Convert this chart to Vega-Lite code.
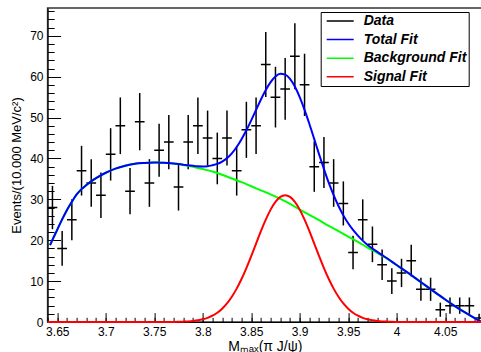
{
  "$schema": "https://vega.github.io/schema/vega-lite/v6.json",
  "width": 434.4,
  "height": 314,
  "autosize": {"type": "none"},
  "padding": {"left": 47.6, "top": 8, "right": 0, "bottom": 30},
  "background": "white",
  "config": {
    "font": "Liberation Sans",
    "view": {"stroke": "#333333", "strokeWidth": 1.5},
    "axis": {"grid": false, "domainColor": "black", "tickColor": "black", "labelColor": "black", "titleColor": "black", "labelFont": "Liberation Sans", "titleFont": "Liberation Sans", "labelFontSize": 12, "titleFontWeight": "normal", "labelFlush": false, "labelOverlap": false}
  },
  "datasets": {
    "hist": [
      {"x": 3.645, "x0": 3.64, "x1": 3.65, "n": 28, "lo": 22.71, "hi": 33.29},
      {"x": 3.655, "x0": 3.65, "x1": 3.66, "n": 18, "lo": 13.76, "hi": 22.24},
      {"x": 3.665, "x0": 3.66, "x1": 3.67, "n": 25, "lo": 20, "hi": 30},
      {"x": 3.675, "x0": 3.67, "x1": 3.68, "n": 37, "lo": 30.92, "hi": 43.08},
      {"x": 3.685, "x0": 3.68, "x1": 3.69, "n": 34, "lo": 28.17, "hi": 39.83},
      {"x": 3.695, "x0": 3.69, "x1": 3.70, "n": 31, "lo": 25.43, "hi": 36.57},
      {"x": 3.705, "x0": 3.70, "x1": 3.71, "n": 41, "lo": 34.6, "hi": 47.4},
      {"x": 3.715, "x0": 3.71, "x1": 3.72, "n": 48, "lo": 41.07, "hi": 54.93},
      {"x": 3.725, "x0": 3.72, "x1": 3.73, "n": 32, "lo": 26.34, "hi": 37.66},
      {"x": 3.735, "x0": 3.73, "x1": 3.74, "n": 49, "lo": 42, "hi": 56},
      {"x": 3.745, "x0": 3.74, "x1": 3.75, "n": 34, "lo": 28.17, "hi": 39.83},
      {"x": 3.755, "x0": 3.75, "x1": 3.76, "n": 42, "lo": 35.52, "hi": 48.48},
      {"x": 3.765, "x0": 3.76, "x1": 3.77, "n": 44, "lo": 37.37, "hi": 50.63},
      {"x": 3.775, "x0": 3.77, "x1": 3.78, "n": 33, "lo": 27.26, "hi": 38.74},
      {"x": 3.785, "x0": 3.78, "x1": 3.79, "n": 44, "lo": 37.37, "hi": 50.63},
      {"x": 3.795, "x0": 3.79, "x1": 3.80, "n": 48, "lo": 41.07, "hi": 54.93},
      {"x": 3.805, "x0": 3.80, "x1": 3.81, "n": 45, "lo": 38.29, "hi": 51.71},
      {"x": 3.815, "x0": 3.81, "x1": 3.82, "n": 40, "lo": 33.68, "hi": 46.32},
      {"x": 3.825, "x0": 3.82, "x1": 3.83, "n": 45, "lo": 38.29, "hi": 51.71},
      {"x": 3.835, "x0": 3.83, "x1": 3.84, "n": 37, "lo": 30.92, "hi": 43.08},
      {"x": 3.845, "x0": 3.84, "x1": 3.85, "n": 47, "lo": 40.14, "hi": 53.86},
      {"x": 3.855, "x0": 3.85, "x1": 3.86, "n": 48, "lo": 41.07, "hi": 54.93},
      {"x": 3.865, "x0": 3.86, "x1": 3.87, "n": 63, "lo": 55.06, "hi": 70.94},
      {"x": 3.875, "x0": 3.87, "x1": 3.88, "n": 55, "lo": 47.58, "hi": 62.42},
      {"x": 3.885, "x0": 3.88, "x1": 3.89, "n": 57, "lo": 49.45, "hi": 64.55},
      {"x": 3.895, "x0": 3.89, "x1": 3.90, "n": 65, "lo": 56.94, "hi": 73.06},
      {"x": 3.905, "x0": 3.90, "x1": 3.91, "n": 58, "lo": 50.38, "hi": 65.62},
      {"x": 3.915, "x0": 3.91, "x1": 3.92, "n": 38, "lo": 31.84, "hi": 44.16},
      {"x": 3.925, "x0": 3.92, "x1": 3.93, "n": 39, "lo": 32.76, "hi": 45.24},
      {"x": 3.935, "x0": 3.93, "x1": 3.94, "n": 34, "lo": 28.17, "hi": 39.83},
      {"x": 3.945, "x0": 3.94, "x1": 3.95, "n": 29, "lo": 23.61, "hi": 34.39},
      {"x": 3.955, "x0": 3.95, "x1": 3.96, "n": 17, "lo": 12.88, "hi": 21.12},
      {"x": 3.965, "x0": 3.96, "x1": 3.97, "n": 25, "lo": 20, "hi": 30},
      {"x": 3.975, "x0": 3.97, "x1": 3.98, "n": 19, "lo": 14.64, "hi": 23.36},
      {"x": 3.985, "x0": 3.98, "x1": 3.99, "n": 14, "lo": 10.26, "hi": 17.74},
      {"x": 3.995, "x0": 3.99, "x1": 4.00, "n": 10, "lo": 6.84, "hi": 13.16},
      {"x": 4.005, "x0": 4.00, "x1": 4.01, "n": 12, "lo": 8.54, "hi": 15.46},
      {"x": 4.015, "x0": 4.01, "x1": 4.02, "n": 15, "lo": 11.13, "hi": 18.87},
      {"x": 4.025, "x0": 4.02, "x1": 4.03, "n": 8, "lo": 5.17, "hi": 10.83},
      {"x": 4.035, "x0": 4.03, "x1": 4.04, "n": 8, "lo": 5.17, "hi": 10.83},
      {"x": 4.045, "x0": 4.04, "x1": 4.05, "n": 3, "lo": 1.27, "hi": 4.73},
      {"x": 4.055, "x0": 4.05, "x1": 4.06, "n": 4, "lo": 2, "hi": 6},
      {"x": 4.065, "x0": 4.06, "x1": 4.07, "n": 4, "lo": 2, "hi": 6},
      {"x": 4.075, "x0": 4.07, "x1": 4.08, "n": 4, "lo": 2, "hi": 6},
      {"x": 4.085, "x0": 4.08, "x1": 4.09, "n": 1, "lo": 0, "hi": 2}
    ],
    "curves": [
      {"s": "Background Fit", "x": 3.6425, "y": 18.8},
      {"s": "Background Fit", "x": 3.645, "y": 20.1},
      {"s": "Background Fit", "x": 3.65, "y": 22.6},
      {"s": "Background Fit", "x": 3.655, "y": 25.1},
      {"s": "Background Fit", "x": 3.66, "y": 27.4},
      {"s": "Background Fit", "x": 3.665, "y": 29.4},
      {"s": "Background Fit", "x": 3.67, "y": 31.2},
      {"s": "Background Fit", "x": 3.675, "y": 32.5},
      {"s": "Background Fit", "x": 3.68, "y": 33.5},
      {"s": "Background Fit", "x": 3.685, "y": 34.4},
      {"s": "Background Fit", "x": 3.69, "y": 35.2},
      {"s": "Background Fit", "x": 3.70, "y": 36.5},
      {"s": "Background Fit", "x": 3.71, "y": 37.5},
      {"s": "Background Fit", "x": 3.72, "y": 38.2},
      {"s": "Background Fit", "x": 3.73, "y": 38.7},
      {"s": "Background Fit", "x": 3.74, "y": 38.9},
      {"s": "Background Fit", "x": 3.75, "y": 39.0},
      {"s": "Background Fit", "x": 3.76, "y": 38.95},
      {"s": "Background Fit", "x": 3.77, "y": 38.75},
      {"s": "Background Fit", "x": 3.78, "y": 38.4},
      {"s": "Background Fit", "x": 3.79, "y": 37.95},
      {"s": "Background Fit", "x": 3.80, "y": 37.4},
      {"s": "Background Fit", "x": 3.81, "y": 36.8},
      {"s": "Background Fit", "x": 3.82, "y": 36.0},
      {"s": "Background Fit", "x": 3.83, "y": 35.1},
      {"s": "Background Fit", "x": 3.84, "y": 34.2},
      {"s": "Background Fit", "x": 3.85, "y": 33.2},
      {"s": "Background Fit", "x": 3.86, "y": 32.2},
      {"s": "Background Fit", "x": 3.87, "y": 31.2},
      {"s": "Background Fit", "x": 3.88, "y": 30.1},
      {"s": "Background Fit", "x": 3.89, "y": 28.9},
      {"s": "Background Fit", "x": 3.90, "y": 27.5},
      {"s": "Background Fit", "x": 3.91, "y": 26.2},
      {"s": "Background Fit", "x": 3.92, "y": 24.9},
      {"s": "Background Fit", "x": 3.93, "y": 23.5},
      {"s": "Background Fit", "x": 3.94, "y": 22.2},
      {"s": "Background Fit", "x": 3.95, "y": 20.9},
      {"s": "Background Fit", "x": 3.96, "y": 19.6},
      {"s": "Background Fit", "x": 3.97, "y": 18.2},
      {"s": "Background Fit", "x": 3.98, "y": 16.9},
      {"s": "Background Fit", "x": 3.99, "y": 15.5},
      {"s": "Background Fit", "x": 4.00, "y": 13.9},
      {"s": "Background Fit", "x": 4.01, "y": 12.3},
      {"s": "Background Fit", "x": 4.02, "y": 10.6},
      {"s": "Background Fit", "x": 4.03, "y": 8.9},
      {"s": "Background Fit", "x": 4.04, "y": 7.2},
      {"s": "Background Fit", "x": 4.05, "y": 5.5},
      {"s": "Background Fit", "x": 4.06, "y": 3.9},
      {"s": "Background Fit", "x": 4.07, "y": 2.4},
      {"s": "Background Fit", "x": 4.08, "y": 1.0},
      {"s": "Background Fit", "x": 4.087, "y": 0.1},
      {"s": "Total Fit", "x": 3.6425, "y": 18.8},
      {"s": "Total Fit", "x": 3.645, "y": 20.1},
      {"s": "Total Fit", "x": 3.65, "y": 22.6},
      {"s": "Total Fit", "x": 3.655, "y": 25.1},
      {"s": "Total Fit", "x": 3.66, "y": 27.4},
      {"s": "Total Fit", "x": 3.665, "y": 29.4},
      {"s": "Total Fit", "x": 3.67, "y": 31.2},
      {"s": "Total Fit", "x": 3.675, "y": 32.5},
      {"s": "Total Fit", "x": 3.68, "y": 33.5},
      {"s": "Total Fit", "x": 3.685, "y": 34.4},
      {"s": "Total Fit", "x": 3.69, "y": 35.2},
      {"s": "Total Fit", "x": 3.70, "y": 36.5},
      {"s": "Total Fit", "x": 3.71, "y": 37.5},
      {"s": "Total Fit", "x": 3.72, "y": 38.2},
      {"s": "Total Fit", "x": 3.73, "y": 38.7},
      {"s": "Total Fit", "x": 3.74, "y": 38.9},
      {"s": "Total Fit", "x": 3.75, "y": 39.0},
      {"s": "Total Fit", "x": 3.755, "y": 38.98},
      {"s": "Total Fit", "x": 3.76, "y": 38.96},
      {"s": "Total Fit", "x": 3.765, "y": 38.86},
      {"s": "Total Fit", "x": 3.77, "y": 38.78},
      {"s": "Total Fit", "x": 3.775, "y": 38.63},
      {"s": "Total Fit", "x": 3.78, "y": 38.49},
      {"s": "Total Fit", "x": 3.785, "y": 38.33},
      {"s": "Total Fit", "x": 3.79, "y": 38.2},
      {"s": "Total Fit", "x": 3.795, "y": 38.09},
      {"s": "Total Fit", "x": 3.80, "y": 38.05},
      {"s": "Total Fit", "x": 3.805, "y": 38.11},
      {"s": "Total Fit", "x": 3.81, "y": 38.34},
      {"s": "Total Fit", "x": 3.815, "y": 38.66},
      {"s": "Total Fit", "x": 3.82, "y": 39.25},
      {"s": "Total Fit", "x": 3.825, "y": 40.08},
      {"s": "Total Fit", "x": 3.83, "y": 41.26},
      {"s": "Total Fit", "x": 3.835, "y": 42.81},
      {"s": "Total Fit", "x": 3.84, "y": 44.71},
      {"s": "Total Fit", "x": 3.845, "y": 46.89},
      {"s": "Total Fit", "x": 3.85, "y": 49.31},
      {"s": "Total Fit", "x": 3.855, "y": 51.87},
      {"s": "Total Fit", "x": 3.86, "y": 54.42},
      {"s": "Total Fit", "x": 3.865, "y": 56.73},
      {"s": "Total Fit", "x": 3.87, "y": 58.69},
      {"s": "Total Fit", "x": 3.875, "y": 60.04},
      {"s": "Total Fit", "x": 3.88, "y": 60.69},
      {"s": "Total Fit", "x": 3.885, "y": 60.5},
      {"s": "Total Fit", "x": 3.89, "y": 59.49},
      {"s": "Total Fit", "x": 3.895, "y": 57.59},
      {"s": "Total Fit", "x": 3.90, "y": 54.99},
      {"s": "Total Fit", "x": 3.905, "y": 51.88},
      {"s": "Total Fit", "x": 3.91, "y": 48.42},
      {"s": "Total Fit", "x": 3.915, "y": 44.72},
      {"s": "Total Fit", "x": 3.92, "y": 41.01},
      {"s": "Total Fit", "x": 3.925, "y": 37.39},
      {"s": "Total Fit", "x": 3.93, "y": 34.01},
      {"s": "Total Fit", "x": 3.935, "y": 31.01},
      {"s": "Total Fit", "x": 3.94, "y": 28.36},
      {"s": "Total Fit", "x": 3.945, "y": 26.08},
      {"s": "Total Fit", "x": 3.95, "y": 24.15},
      {"s": "Total Fit", "x": 3.955, "y": 22.51},
      {"s": "Total Fit", "x": 3.96, "y": 21.14},
      {"s": "Total Fit", "x": 3.965, "y": 19.91},
      {"s": "Total Fit", "x": 3.97, "y": 18.85},
      {"s": "Total Fit", "x": 3.975, "y": 17.96},
      {"s": "Total Fit", "x": 3.98, "y": 17.15},
      {"s": "Total Fit", "x": 3.985, "y": 16.35},
      {"s": "Total Fit", "x": 3.99, "y": 15.59},
      {"s": "Total Fit", "x": 3.995, "y": 14.75},
      {"s": "Total Fit", "x": 4.00, "y": 13.93},
      {"s": "Total Fit", "x": 4.005, "y": 13.11},
      {"s": "Total Fit", "x": 4.01, "y": 12.31},
      {"s": "Total Fit", "x": 4.02, "y": 10.6},
      {"s": "Total Fit", "x": 4.03, "y": 8.9},
      {"s": "Total Fit", "x": 4.04, "y": 7.2},
      {"s": "Total Fit", "x": 4.05, "y": 5.5},
      {"s": "Total Fit", "x": 4.06, "y": 3.9},
      {"s": "Total Fit", "x": 4.07, "y": 2.4},
      {"s": "Total Fit", "x": 4.08, "y": 1.0},
      {"s": "Total Fit", "x": 4.087, "y": 0.1},
      {"s": "Signal Fit", "x": 3.64, "y": 0},
      {"s": "Signal Fit", "x": 3.70, "y": 0},
      {"s": "Signal Fit", "x": 3.75, "y": 0.003},
      {"s": "Signal Fit", "x": 3.76, "y": 0.008},
      {"s": "Signal Fit", "x": 3.765, "y": 0.014},
      {"s": "Signal Fit", "x": 3.77, "y": 0.027},
      {"s": "Signal Fit", "x": 3.775, "y": 0.049},
      {"s": "Signal Fit", "x": 3.78, "y": 0.09},
      {"s": "Signal Fit", "x": 3.785, "y": 0.15},
      {"s": "Signal Fit", "x": 3.79, "y": 0.25},
      {"s": "Signal Fit", "x": 3.795, "y": 0.41},
      {"s": "Signal Fit", "x": 3.80, "y": 0.65},
      {"s": "Signal Fit", "x": 3.805, "y": 1.01},
      {"s": "Signal Fit", "x": 3.81, "y": 1.54},
      {"s": "Signal Fit", "x": 3.815, "y": 2.26},
      {"s": "Signal Fit", "x": 3.82, "y": 3.25},
      {"s": "Signal Fit", "x": 3.825, "y": 4.53},
      {"s": "Signal Fit", "x": 3.83, "y": 6.16},
      {"s": "Signal Fit", "x": 3.835, "y": 8.16},
      {"s": "Signal Fit", "x": 3.84, "y": 10.51},
      {"s": "Signal Fit", "x": 3.845, "y": 13.19},
      {"s": "Signal Fit", "x": 3.85, "y": 16.11},
      {"s": "Signal Fit", "x": 3.855, "y": 19.17},
      {"s": "Signal Fit", "x": 3.86, "y": 22.22},
      {"s": "Signal Fit", "x": 3.865, "y": 25.03},
      {"s": "Signal Fit", "x": 3.87, "y": 27.49},
      {"s": "Signal Fit", "x": 3.875, "y": 29.39},
      {"s": "Signal Fit", "x": 3.88, "y": 30.59},
      {"s": "Signal Fit", "x": 3.885, "y": 31.0},
      {"s": "Signal Fit", "x": 3.89, "y": 30.59},
      {"s": "Signal Fit", "x": 3.895, "y": 29.39},
      {"s": "Signal Fit", "x": 3.90, "y": 27.49},
      {"s": "Signal Fit", "x": 3.905, "y": 25.03},
      {"s": "Signal Fit", "x": 3.91, "y": 22.22},
      {"s": "Signal Fit", "x": 3.915, "y": 19.17},
      {"s": "Signal Fit", "x": 3.92, "y": 16.11},
      {"s": "Signal Fit", "x": 3.925, "y": 13.19},
      {"s": "Signal Fit", "x": 3.93, "y": 10.51},
      {"s": "Signal Fit", "x": 3.935, "y": 8.16},
      {"s": "Signal Fit", "x": 3.94, "y": 6.16},
      {"s": "Signal Fit", "x": 3.945, "y": 4.53},
      {"s": "Signal Fit", "x": 3.95, "y": 3.25},
      {"s": "Signal Fit", "x": 3.955, "y": 2.26},
      {"s": "Signal Fit", "x": 3.96, "y": 1.54},
      {"s": "Signal Fit", "x": 3.965, "y": 1.01},
      {"s": "Signal Fit", "x": 3.97, "y": 0.65},
      {"s": "Signal Fit", "x": 3.975, "y": 0.41},
      {"s": "Signal Fit", "x": 3.98, "y": 0.25},
      {"s": "Signal Fit", "x": 3.985, "y": 0.15},
      {"s": "Signal Fit", "x": 3.99, "y": 0.09},
      {"s": "Signal Fit", "x": 3.995, "y": 0.049},
      {"s": "Signal Fit", "x": 4.00, "y": 0.027},
      {"s": "Signal Fit", "x": 4.01, "y": 0.008},
      {"s": "Signal Fit", "x": 4.02, "y": 0.002},
      {"s": "Signal Fit", "x": 4.088, "y": 0}
    ]
  },
  "layer": [
    {
      "data": {"name": "hist"},
      "mark": {"type": "rule", "strokeWidth": 1.5, "clip": true},
      "encoding": {
        "x": {"field": "x0", "type": "quantitative", "scale": {"domain": [3.64, 4.088], "nice": false, "zero": false},
              "axis": {"orient": "bottom", "values": [3.64,3.65,3.66,3.67,3.68,3.69,3.70,3.71,3.72,3.73,3.74,3.75,3.76,3.77,3.78,3.79,3.80,3.81,3.82,3.83,3.84,3.85,3.86,3.87,3.88,3.89,3.90,3.91,3.92,3.93,3.94,3.95,3.96,3.97,3.98,3.99,4.00,4.01,4.02,4.03,4.04,4.05,4.06,4.07,4.08], "tickSize": -4.7, "labels": false, "domain": false, "title": null}},
        "x2": {"field": "x1"},
        "y": {"field": "n", "type": "quantitative", "scale": {"domain": [0, 76.8], "nice": false},
              "axis": {"orient": "left", "values": [0,2,4,6,8,10,12,14,16,18,20,22,24,26,28,30,32,34,36,38,40,42,44,46,48,50,52,54,56,58,60,62,64,66,68,70,72,74,76], "tickSize": -6.5, "labels": false, "domain": false, "title": null}},
        "color": {"datum": "Data", "type": "nominal", "title": null,
                  "scale": {"domain": ["Data", "Total Fit", "Background Fit", "Signal Fit"], "range": ["black", "#0000ff", "#00ff00", "#ff0000"]},
                  "legend": {"orient": "none", "legendX": 273.1, "legendY": 4, "title": null, "symbolType": "stroke", "symbolSize": 729, "symbolStrokeWidth": 1.5, "symbolOffset": 3, "labelFontSize": 14, "labelFont": "Liberation Sans", "labelFontWeight": "bold", "labelFontStyle": "italic", "labelColor": "black", "labelOffset": 9, "strokeColor": "black", "fillColor": "white", "padding": 2, "clipHeight": 14, "rowPadding": 4.6, "cornerRadius": 0}}
      }
    },
    {
      "data": {"name": "hist"},
      "mark": {"type": "rule", "strokeWidth": 1.5},
      "encoding": {
        "x": {"field": "x", "type": "quantitative", "scale": {"domain": [3.64, 4.088], "nice": false, "zero": false},
              "axis": {"orient": "bottom", "values": [3.65, 3.7, 3.75, 3.8, 3.85, 3.9, 3.95, 4, 4.05], "format": "~g", "tickSize": -9.4, "labelPadding": 13.4, "title": "Mₘₐₓ(π J/ψ)", "titleFontSize": 14, "titlePadding": 2}},
        "y": {"field": "lo", "type": "quantitative", "scale": {"domain": [0, 76.8], "nice": false},
              "axis": {"orient": "left", "values": [0, 10, 20, 30, 40, 50, 60, 70], "tickSize": -13, "labelPadding": 17.6, "title": "Events/(10.000 MeV/c²)", "titleFontSize": 13, "titlePadding": 6}},
        "y2": {"field": "hi"},
        "color": {"datum": "Data", "type": "nominal", "title": null}
      }
    },
    {
      "data": {"name": "curves"},
      "transform": [{"filter": "datum.s === 'Background Fit'"}],
      "mark": {"type": "line", "strokeWidth": 2, "interpolate": "monotone", "clip": true},
      "encoding": {
        "x": {"field": "x", "type": "quantitative", "scale": {"domain": [3.64, 4.088], "nice": false, "zero": false}, "axis": null},
        "y": {"field": "y", "type": "quantitative", "scale": {"domain": [0, 76.8], "nice": false}, "axis": null},
        "color": {"field": "s", "type": "nominal", "title": null}
      }
    },
    {
      "data": {"name": "curves"},
      "transform": [{"filter": "datum.s === 'Total Fit'"}],
      "mark": {"type": "line", "strokeWidth": 2, "interpolate": "monotone", "clip": true},
      "encoding": {
        "x": {"field": "x", "type": "quantitative", "scale": {"domain": [3.64, 4.088], "nice": false, "zero": false}, "axis": null},
        "y": {"field": "y", "type": "quantitative", "scale": {"domain": [0, 76.8], "nice": false}, "axis": null},
        "color": {"field": "s", "type": "nominal", "title": null}
      }
    },
    {
      "data": {"name": "curves"},
      "transform": [{"filter": "datum.s === 'Signal Fit'"}],
      "mark": {"type": "line", "strokeWidth": 2, "interpolate": "monotone"},
      "encoding": {
        "x": {"field": "x", "type": "quantitative", "scale": {"domain": [3.64, 4.088], "nice": false, "zero": false}, "axis": null},
        "y": {"field": "y", "type": "quantitative", "scale": {"domain": [0, 76.8], "nice": false}, "axis": null},
        "color": {"field": "s", "type": "nominal", "title": null}
      }
    }
  ],
  "resolve": {"axis": {"x": "independent", "y": "independent"}}
}
